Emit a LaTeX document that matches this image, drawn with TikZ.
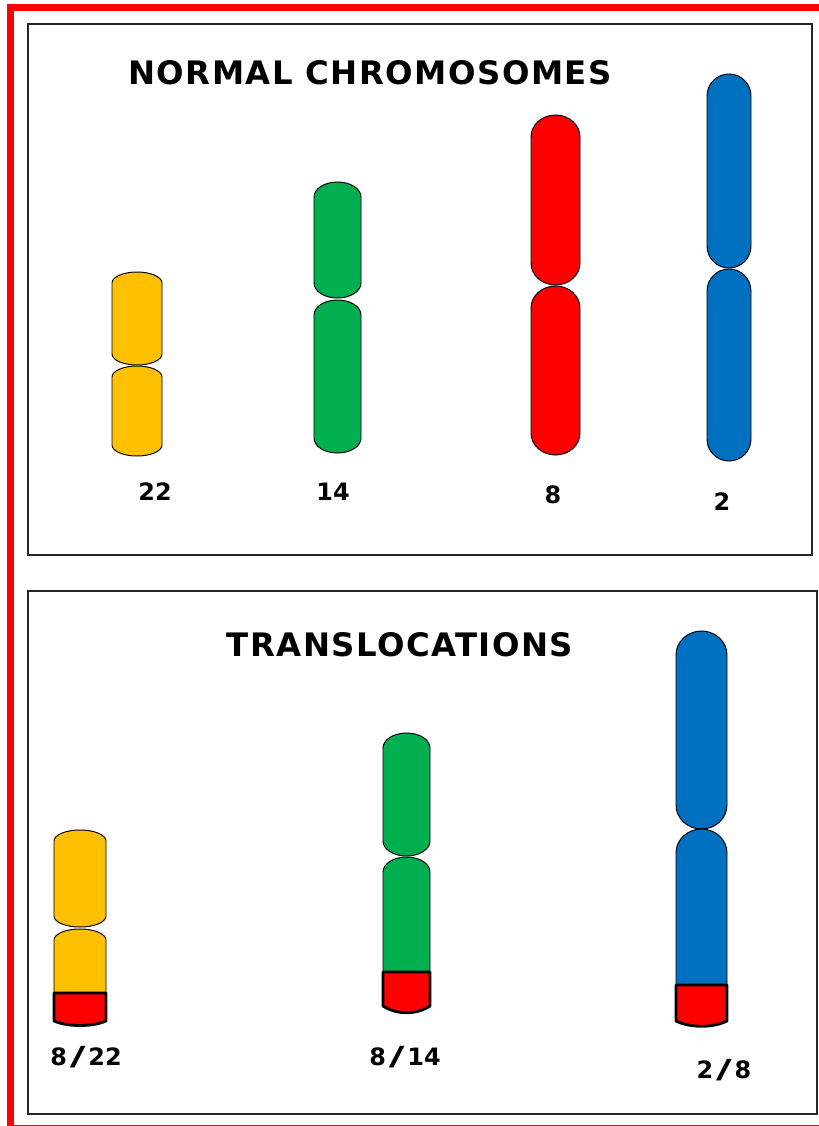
\documentclass[tikz,border=0pt]{standalone}
\usepackage{graphicx}
\usepackage{fontspec}
\setsansfont{DejaVu Sans}
\newfontfamily\headfont[LetterSpace=4.5]{DejaVu Sans}
\definecolor{chryellow}{HTML}{FFC000}
\definecolor{chrgreen}{HTML}{00B050}
\definecolor{chrred}{HTML}{FF0000}
\definecolor{chrblue}{HTML}{0070C0}
\newcommand{\chrsl}{\kern0.12em\scalebox{1.8}[1.1]{/}\kern0.12em}
\tikzset{
  arm/.style={draw=black, line width=0.7pt},
  capbox/.style={draw=black, fill=chrred, line width=2pt, line join=round},
  panel/.style={draw=black!85, line width=1pt},
  title/.style={font=\headfont\bfseries\fontsize{23}{26}\selectfont},
  lbl/.style={font=\sffamily\bfseries\fontsize{17}{20}\selectfont}
}
\begin{document}
\begin{tikzpicture}[x=0.025cm, y=-0.025cm]
 \useasboundingbox (0,0) rectangle (819,1126);

 % outer red frame
 \draw[chrred, line width=4.8pt] (10.7,7.3) rectangle (840,1128.5);

 % panels
 \draw[panel] (28,24) rectangle (812,555);
 \draw[panel] (28,591) rectangle (817,1114);

 \node[title] (ttop) at (370,73) {NORMAL CHROMOSOMES};
 \node[title] (tbot) at (400,645) {TRANSLOCATIONS};

 % normal chromosomes, one arm per entry
 \foreach \xa/\xb/\ya/\yb/\ry/\col in {
     112/162/272/365/11/chryellow, 112/162/366/456/11/chryellow,
     314/361/182/298/15/chrgreen,  314/361/300/453/15/chrgreen,
     531/580/115/285/22/chrred,    531/580/286/455/22/chrred,
     707/751/74/268/22/chrblue,    707/751/269/461/22/chrblue} {
   \draw[arm, fill=\col] (\xa,\yb-\ry) -- (\xa,\ya+\ry)
     arc[start angle=180, end angle=360, x radius={(\xb-\xa)/2}, y radius=\ry]
     -- (\xb,\yb-\ry)
     arc[start angle=0, end angle=180, x radius={(\xb-\xa)/2}, y radius=\ry]
     -- cycle;
 }

 %level 2
 \foreach \xa/\xb/\ya/\yb/\ry/\col in {
     54/106/830/927/11/chryellow,  54/106/929/1003/11/chryellow,
     383/430/733/856/15/chrgreen,  383/430/857/987/15/chrgreen,
     676/727/631/829/24/chrblue,   676/727/829/1009/24/chrblue} {
   \draw[arm, fill=\col] (\xa,\yb-\ry) -- (\xa,\ya+\ry)
     arc[start angle=180, end angle=360, x radius={(\xb-\xa)/2}, y radius=\ry]
     -- (\xb,\yb-\ry)
     arc[start angle=0, end angle=180, x radius={(\xb-\xa)/2}, y radius=\ry]
     -- cycle;
 }

 % translocated red ends
 \foreach \xa/\xb/\ya/\yb/\d in {54/106/993/1027/6, 383/430/972/1015/9, 676/727/985/1028/7} {
   \draw[capbox] (\xa,\ya) -- (\xa,\yb-\d)
     .. controls (\xa+14,\yb) and (\xb-14,\yb) .. (\xb,\yb-\d)
     -- (\xb,\ya) -- cycle;
 }

 % labels
 \foreach \x/\y/\name/\n in {155/492/22/l22, 333/492/14/l14, 553/495/8/l8, 722/502/2/l2,
                             86/1057/8\chrsl 22/l822, 405/1057/8\chrsl 14/l814, 724/1070/2\chrsl 8/l28} {
   \node[lbl] (\n) at (\x,\y) {\name};
 }

\end{tikzpicture}
\end{document}
